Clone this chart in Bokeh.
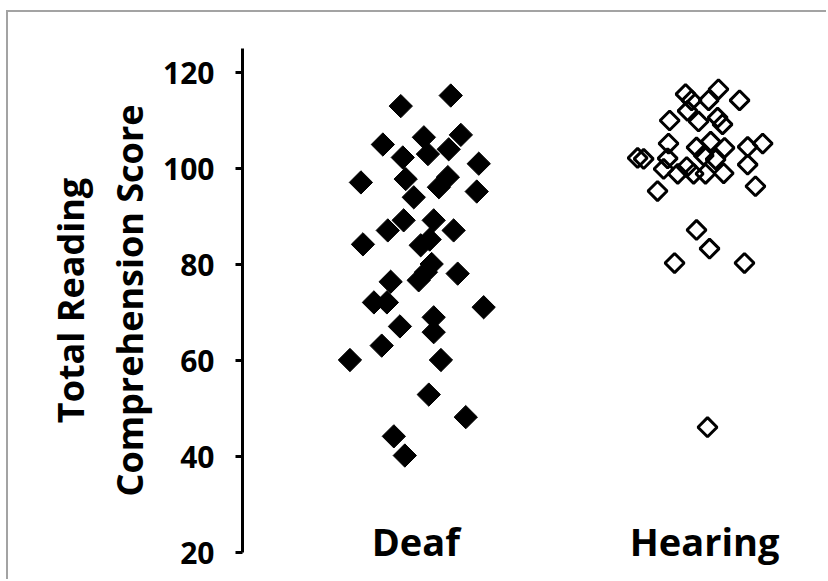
import math
from bokeh.plotting import figure
from bokeh.models import ColumnDataSource, FixedTicker, Range1d
from bokeh.embed import file_html
from bokeh.resources import INLINE

# ---- data ----
categories = ["Deaf", "Hearing"]
category_pos = [1, 2]

deaf_x = [1.121, 0.948, 1.156, 1.028, 0.886, 1.114, 1.042, 0.955, 1.218, 0.965,
          1.111, 0.810, 1.080, 1.211, 0.993, 0.958, 1.062, 0.903, 1.131, 1.048,
          1.017, 0.817, 1.055, 1.035, 1.010, 1.145, 0.913, 0.855, 0.900, 1.235,
          1.062, 0.945, 1.062, 0.882, 0.772, 1.087, 1.045, 1.173, 0.924, 0.962]
deaf_score = [115.2, 113, 107, 106.5, 105, 104, 103, 102.3, 101, 97.8,
              98.2, 97.1, 96.1, 95.2, 94, 89.2, 89.2, 87.1, 87.1, 85.2,
              84, 84.2, 80.1, 78.4, 76.7, 78.1, 76.4, 72.1, 72.1, 71.1,
              69, 67.1, 65.9, 63.1, 60.1, 60.1, 52.9, 48.2, 44.2, 40.2]

hearing_x = [2.048, 1.934, 1.955, 2.014, 2.121, 1.941, 1.879, 1.979, 2.045, 2.062,
             1.875, 2.021, 1.972, 2.069, 2.149, 2.201, 1.768, 1.789, 1.872, 1.997,
             2.038, 2.149, 1.858, 1.938, 1.907, 1.962, 2.003, 2.066, 2.176, 1.837,
             1.972, 2.017, 1.896, 2.138, 2.010]
hearing_score = [116.5, 115.5, 114.2, 114.2, 114.2, 112, 110, 109.8, 110.6, 109.2,
                 105.2, 105.6, 104.4, 104.3, 104.5, 105.2, 102.2, 102, 102.1, 102.7,
                 101.9, 100.8, 99.9, 100.3, 98.9, 98.9, 98.9, 99, 96.3, 95.3,
                 87.2, 83.3, 80.3, 80.3, 46.1]

y_ticks = [20, 40, 60, 80, 100, 120]
y_title = "Total Reading\nComprehension Score"

FONT = "Open Sans"

p = figure(width=826, height=579, output_backend="svg", toolbar_location=None,
           x_range=Range1d(0.4, 2.422), y_range=Range1d(20, 125),
           min_border_left=242, min_border_right=0, min_border_top=48,
           min_border_bottom=27)
# thin grey chart-area border along the top and left edges
p.styles = {"box-shadow": "inset 6px 10px 0 0 #ffffff, inset 8px 12px 0 0 #a3a3a3"}
p.outline_line_color = None
p.xgrid.visible = False
p.ygrid.visible = False
p.background_fill_color = "white"
p.border_fill_color = None

deaf_src = ColumnDataSource(dict(x=deaf_x, y=deaf_score))
hear_src = ColumnDataSource(dict(x=hearing_x, y=hearing_score))

p.scatter("x", "y", source=deaf_src, marker="square", angle=math.pi / 4,
          size=16.5, fill_color="black", line_color="black", line_width=1)
p.scatter("x", "y", source=hear_src, marker="square", angle=math.pi / 4,
          size=13.5, fill_color=None, line_color="black", line_width=3)

# y axis
ya = p.yaxis[0]
ya.ticker = FixedTicker(ticks=y_ticks)
ya.axis_line_width = 3
ya.axis_line_color = "black"
ya.major_tick_line_width = 3
ya.major_tick_out = 7
ya.major_tick_in = 0
ya.minor_tick_line_color = None
ya.major_label_standoff = 21
ya.major_label_text_font = FONT
ya.major_label_text_font_style = "bold"
ya.major_label_text_font_size = "30px"
ya.major_label_text_color = "black"
ya.axis_label = y_title
ya.axis_label_text_font = FONT
ya.axis_label_text_font_style = "bold"
ya.axis_label_text_font_size = "36px"
ya.axis_label_text_line_height = 1.2
ya.axis_label_text_color = "black"
ya.axis_label_standoff = 6

# x axis (category labels only)
xa = p.xaxis[0]
xa.ticker = FixedTicker(ticks=category_pos)
xa.major_label_overrides = {pos: lab for pos, lab in zip(category_pos, categories)}
xa.axis_line_color = None
xa.major_tick_line_color = None
xa.minor_tick_line_color = None
xa.major_tick_out = 0
xa.major_tick_in = 0
xa.major_label_standoff = -38
xa.major_label_text_font = FONT
xa.major_label_text_font_style = "bold"
xa.major_label_text_font_size = "38px"
xa.major_label_text_color = "black"

open("out.html", "w").write(file_html(p, INLINE))
